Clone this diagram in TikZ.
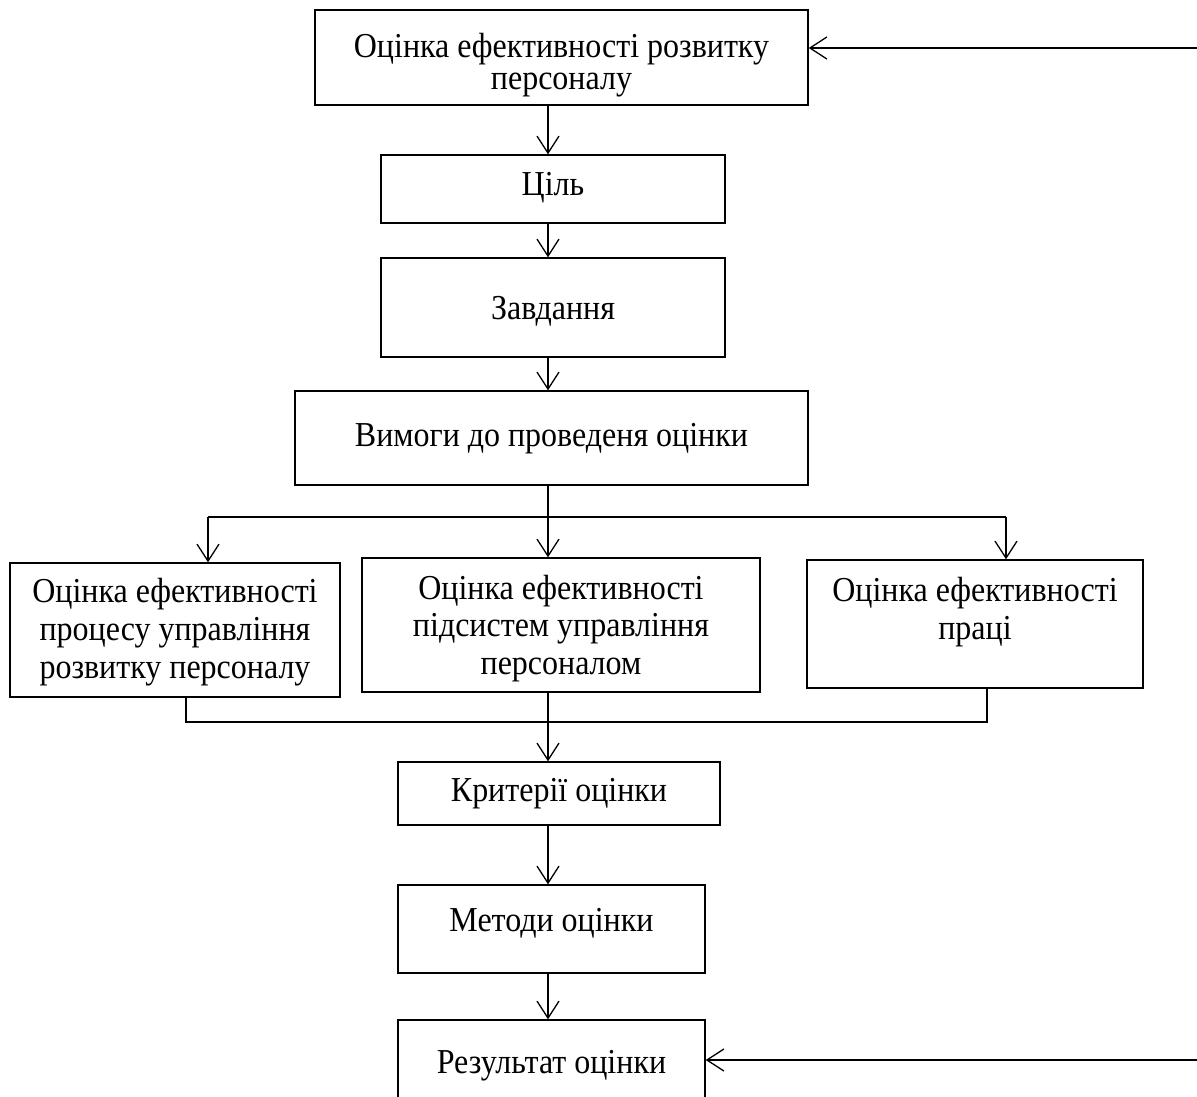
\documentclass[tikz,border=0pt]{standalone}
\usepackage{fontspec}
\setmainfont{Liberation Serif}
\newfontfamily\tekstfont[FakeStretch=0.914]{Liberation Serif}
\usetikzlibrary{arrows.meta}

\begin{document}
\begin{tikzpicture}[x=1pt,y=-1pt]
        \tikzset{blok/.style={draw,line width=1.4pt,rectangle,align=center,inner sep=0pt,
                font=\tekstfont\fontsize{35}{38}\selectfont,text depth=0pt},
            strilka/.style={line width=1.5pt,-{Straight Barb[length=17pt,width=22pt,line width=1.3pt]}},
            liniya/.style={line width=1.5pt}}
        \clip (0,0) rectangle (1197,1097);
        \node[blok,minimum width=493pt,minimum height=95pt,text height=65pt,
            font=\tekstfont\fontsize{35}{32}\selectfont] (top) at (561.5,57.5)
            {Оцінка ефективності розвитку\\персоналу};
        \node[blok,minimum width=344pt,minimum height=68pt,text height=14pt] (cil) at (553,189) {Ціль};
        \node[blok,minimum width=344pt,minimum height=99pt,text height=23pt] (zavd) at (553,307.5) {Завдання};
        \node[blok,minimum width=513pt,minimum height=94pt,text height=16pt] (vymogy) at (551.5,438)
            {Вимоги до проведеня оцінки};
        \node[blok,minimum width=330pt,minimum height=134pt,text height=96pt] (ocproc) at (175,630)
            {Оцінка ефективності\\процесу управління\\розвитку персоналу};
        \node[blok,minimum width=398pt,minimum height=134pt,text height=98pt,
            font=\tekstfont\fontsize{35}{37.5}\selectfont] (ocpids) at (561,625)
            {Оцінка ефективності\\підсистем управління\\персоналом};
        \node[blok,minimum width=336pt,minimum height=128pt,text height=30pt] (ocprac) at (975,624)
            {Оцінка ефективності\\праці};
        \node[blok,minimum width=322pt,minimum height=63pt,text height=15pt] (kryt) at (559,793.5) {Критерії оцінки};
        \node[blok,minimum width=307pt,minimum height=88pt,text height=4pt] (metody) at (551.5,929)
            {Методи оцінки};
        \node[blok,minimum width=307pt,minimum height=100pt,text height=7pt] (rezult) at (551.5,1070)
            {Результат оцінки};
        % osi ta tochky
        \coordinate (os) at (548,0);
        \coordinate (vl) at (208,517);
        \coordinate (vr) at (1006,517);
        \coordinate (zl) at (186,722);
        \coordinate (zr) at (987,722);
        \coordinate (pravo1) at (1197,48);
        \coordinate (pravo2) at (1197,1060);
        % strilky
        \draw[strilka] (top.south -| os) -- (cil.north -| os);
        \draw[strilka] (cil.south -| os) -- (zavd.north -| os);
        \draw[strilka] (zavd.south -| os) -- (vymogy.north -| os);
        \draw[strilka] (vymogy.south -| os) -- (ocpids.north -| os);
        \draw[liniya] (vl) -- (vr);
        \draw[strilka] (vl) -- (vl |- ocproc.north);
        \draw[strilka] (vr) -- (vr |- ocprac.north);
        \draw[liniya] (ocproc.south -| zl) -- (zl) -- (zr) -- (ocprac.south -| zr);
        \draw[strilka] (ocpids.south -| os) -- (kryt.north -| os);
        \draw[strilka] (kryt.south -| os) -- (metody.north -| os);
        \draw[strilka] (metody.south -| os) -- (rezult.north -| os);
        \draw[strilka] (pravo1) -- (pravo1 -| top.east);
        \draw[strilka] (pravo2) -- (pravo2 -| rezult.east);
    \end{tikzpicture}
\end{document}
